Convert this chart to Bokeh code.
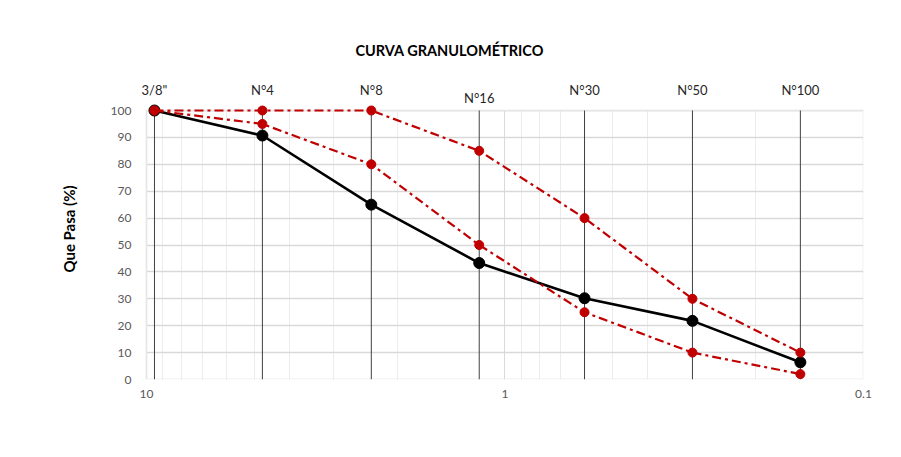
from bokeh.plotting import figure
from bokeh.models import Range1d, FixedTicker, NumeralTickFormatter, ColumnDataSource, BoxAnnotation
from bokeh.core.properties import value
from bokeh.embed import file_html
from bokeh.resources import INLINE

# ---- data ----
sieves = ['3/8"', "N°4", "N°8", "N°16", "N°30", "N°50", "N°100"]
sizes = [9.5, 4.75, 2.36, 1.18, 0.6, 0.3, 0.15]          # abertura (mm)
passing = [100, 90.7, 65, 43.3, 30.2, 21.8, 6.4]          # muestra
upper = [100, 100, 100, 85, 60, 30, 10]                   # límite superior
lower = [100, 95, 80, 50, 25, 10, 2]                      # límite inferior
x_major_ticks = [10, 1, 0.1]
y_ticks = [0, 10, 20, 30, 40, 50, 60, 70, 80, 90, 100]

# sieve label heights (y units, layout only)
label_y = [107.8, 107.8, 107.8, 104.8, 107.8, 107.8, 107.8]

FONT = "Lato"
RED = "#c00000"
Y_TOP = 111.9      # headroom above 100 % for the sieve labels
X_LEFT = 10.8      # small margin left of 10 mm so the 3/8" label is not clipped

x_minor = [m * d for d in (0.1, 1) for m in range(2, 10)]

p = figure(width=893, height=449, x_axis_type="log",
           x_range=Range1d(X_LEFT, 0.1), y_range=Range1d(0, Y_TOP),
           output_backend="svg", toolbar_location=None,
           min_border_left=134, min_border_right=30,
           min_border_top=78, min_border_bottom=70)
p.background_fill_color = "white"
p.border_fill_color = "white"
p.outline_line_color = None

# title
p.title.text = "CURVA GRANULOMÉTRICO"
p.title.align = "left"
p.title.offset = 221
p.title.standoff = 39
p.title.text_font = FONT
p.title.text_font_style = "bold"
p.title.text_font_size = "14.5px"
p.title.text_color = "#000000"

# axes
p.xaxis.ticker = FixedTicker(ticks=x_major_ticks, minor_ticks=x_minor)
p.xaxis.formatter = NumeralTickFormatter(format="0.[0]")
p.yaxis.ticker = FixedTicker(ticks=y_ticks)
for ax in (p.xaxis, p.yaxis):
    ax.axis_line_color = None
    ax.major_tick_line_color = None
    ax.minor_tick_line_color = None
    ax.major_tick_out = 0
    ax.minor_tick_out = 0
    ax.major_label_text_font = FONT
    ax.major_label_text_font_size = "12px"
    ax.major_label_text_color = "#595959"
p.xaxis.major_label_standoff = 10
p.yaxis.major_label_standoff = 3
p.yaxis.axis_label = "Que Pasa (%)"
p.yaxis.axis_label_text_font = FONT
p.yaxis.axis_label_text_font_style = "bold"
p.yaxis.axis_label_text_font_size = "15px"
p.yaxis.axis_label_text_color = "#000000"
p.yaxis.axis_label_standoff = 30

# grids
p.xgrid.grid_line_color = "#d9d9d9"
p.xgrid.minor_grid_line_color = "#ececec"
p.ygrid.grid_line_color = "#d9d9d9"
p.ygrid.grid_line_width = 1.5

# white masks outside the 10..0.1 / 0..100 plot area, and its border
p.add_layout(BoxAnnotation(bottom=100, fill_color="white", fill_alpha=1,
                           line_color=None, level="underlay"))
p.add_layout(BoxAnnotation(right=10, fill_color="white", fill_alpha=1,
                           line_color=None, level="underlay"))
p.add_layout(BoxAnnotation(bottom=0, top=100, left=10, right=0.1, fill_alpha=0,
                           line_color="#d9d9d9", line_width=2.5, level="underlay"))

src = ColumnDataSource(dict(size=sizes, passing=passing, upper=upper, lower=lower,
                            y0=[0] * len(sizes), y1=[100] * len(sizes),
                            name=sieves, label_y=label_y))

# sieve vertical lines
p.segment(x0="size", x1="size", y0="y0", y1="y1", source=src,
          line_color="#404040", line_width=1)

# sample curve
p.line("size", "passing", source=src, line_color="black", line_width=2.6)
p.scatter("size", "passing", source=src, size=11, fill_color="black", line_color="black")

# limits
for col in ("upper", "lower"):
    p.line("size", col, source=src, line_color=RED, line_width=2.2, line_dash="9 4 3 4")
    p.scatter("size", col, source=src, size=9, fill_color=RED, line_color=RED)

# sieve labels
p.text(x="size", y="label_y", text="name", source=src, text_align="center",
       text_baseline="middle", text_font=value(FONT), text_font_size="13px",
       text_color="#262626")

open("out.html", "w").write(file_html(p, INLINE))
